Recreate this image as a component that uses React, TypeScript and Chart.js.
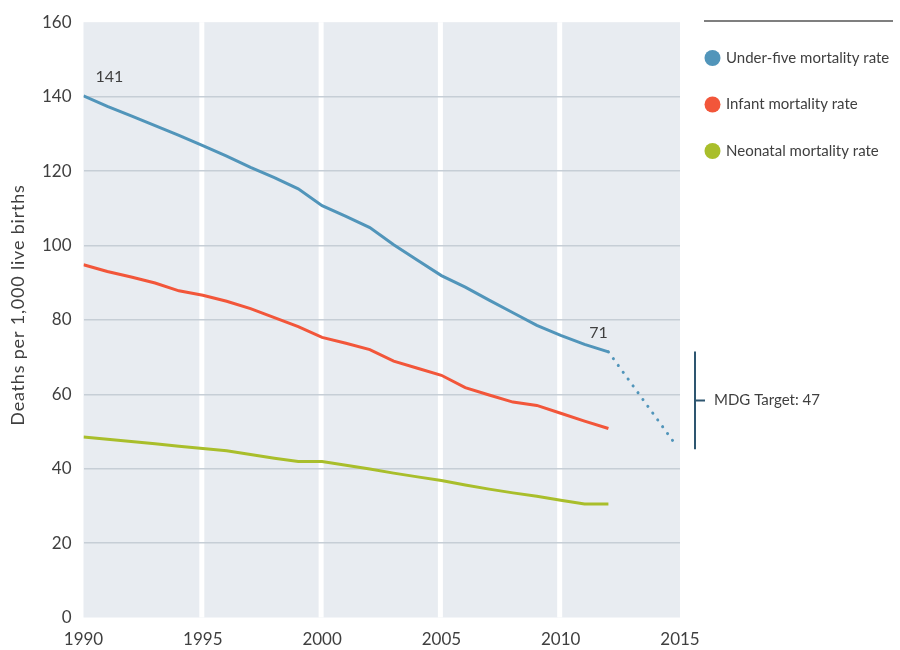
import React, { useEffect, useRef } from "react";
import { Chart, registerables } from "chart.js";

Chart.register(...registerables);

const years = [1990, 1991, 1992, 1993, 1994, 1995, 1996, 1997, 1998, 1999, 2000, 2001, 2002, 2003, 2004, 2005, 2006, 2007, 2008, 2009, 2010, 2011, 2012];
const underFive = [140.2, 137.4, 134.8, 132.2, 129.6, 126.8, 124.0, 121.0, 118.2, 115.2, 110.7, 107.8, 104.8, 100.2, 96.0, 91.9, 88.8, 85.3, 81.9, 78.5, 75.8, 73.4, 71.4];
const infant = [94.8, 93.0, 91.5, 89.9, 87.8, 86.6, 85.0, 83.0, 80.6, 78.2, 75.3, 73.7, 72.0, 68.9, 67.0, 65.1, 61.8, 59.8, 57.9, 57.0, 54.9, 52.8, 50.8];
const neonatal = [48.5, 47.9, 47.3, 46.7, 46.0, 45.4, 44.8, 43.8, 42.8, 41.9, 41.9, 40.9, 39.9, 38.8, 37.8, 36.8, 35.6, 34.5, 33.5, 32.6, 31.5, 30.5, 30.5];
const projectionYears = [2012, 2014.8];
const projectionValues = [71.4, 46.6];
const xTicks = [1990, 1995, 2000, 2005, 2010, 2015];
const bandYears = [1995, 2000, 2005, 2010];
const yTicks = [0, 20, 40, 60, 80, 100, 120, 140, 160];
const seriesNames = ["Under-five mortality rate", "Infant mortality rate", "Neonatal mortality rate"];
const seriesColors = ["#5195BA", "#F2563A", "#A9BE2B"];
const yTitle = "Deaths per 1,000 live births";
const startLabel = "141";
const endLabel = "71";
const targetLabel = "MDG Target: 47";
const targetRange = [71.5, 45.2];

const FONT = "Lato, 'Open Sans', sans-serif";
const TEXT = "#3f3f3f";

const decorPlugin = {
  id: "decor",
  beforeDraw(chart: any) {
    const { ctx, chartArea, scales } = chart;
    const x = scales.x;
    ctx.save();
    ctx.fillStyle = "#E8ECF1";
    ctx.fillRect(chartArea.left, chartArea.top, chartArea.right - chartArea.left, chartArea.bottom - chartArea.top);
    ctx.fillStyle = "#FFFFFF";
    bandYears.forEach((yr) => {
      const px = x.getPixelForValue(yr) - 1;
      ctx.fillRect(px - 2.5, chartArea.top, 5, chartArea.bottom - chartArea.top);
    });
    ctx.restore();
  },
  afterDraw(chart: any) {
    const { ctx, chartArea, scales } = chart;
    const x = scales.x;
    const y = scales.y;
    ctx.save();
    ctx.font = `16px ${FONT}`;
    ctx.fillStyle = TEXT;
    ctx.textBaseline = "middle";
    ctx.textAlign = "left";
    ctx.fillText(startLabel, x.getPixelForValue(years[0]) + 12, y.getPixelForValue(underFive[0]) - 19);
    ctx.textAlign = "center";
    ctx.fillText(endLabel, x.getPixelForValue(years[years.length - 1]) - 10, y.getPixelForValue(underFive[underFive.length - 1]) - 19);

    // MDG bracket
    const bx = chartArea.right + 15;
    const y1 = y.getPixelForValue(targetRange[0]);
    const y2 = y.getPixelForValue(targetRange[1]);
    const ym = (y1 + y2) / 2;
    ctx.strokeStyle = "#2E5670";
    ctx.lineWidth = 2;
    ctx.beginPath();
    ctx.moveTo(bx, y1);
    ctx.lineTo(bx, y2);
    ctx.moveTo(bx, ym);
    ctx.lineTo(bx + 10, ym);
    ctx.stroke();
    ctx.font = `15px ${FONT}`;
    ctx.textAlign = "left";
    ctx.fillStyle = TEXT;
    ctx.fillText(targetLabel, bx + 19, ym);

    // Legend
    ctx.strokeStyle = "#555555";
    ctx.lineWidth = 1.5;
    ctx.beginPath();
    ctx.moveTo(704, 21);
    ctx.lineTo(893, 21);
    ctx.stroke();
    const rows = [58, 104.5, 151];
    ctx.font = `15px ${FONT}`;
    seriesNames.forEach((name, i) => {
      ctx.fillStyle = seriesColors[i];
      ctx.beginPath();
      ctx.arc(712.5, rows[i], 8, 0, Math.PI * 2);
      ctx.fill();
      ctx.fillStyle = TEXT;
      ctx.fillText(name, 726, rows[i]);
    });

    // Y title
    ctx.translate(18, 305);
    ctx.rotate(-Math.PI / 2);
    ctx.textAlign = "center";
    ctx.font = `18px ${FONT}`;
    try {
      (ctx as any).letterSpacing = "0.8px";
    } catch (e) {}
    ctx.fillText(yTitle, 0, 0);
    ctx.restore();
  },
};

export default function App() {
  const ref = useRef<HTMLCanvasElement | null>(null);
  useEffect(() => {
    if (!ref.current) return;
    const mk = (vals: number[], xs: number[]) => vals.map((v, i) => ({ x: xs[i], y: v }));
    const chart = new Chart(ref.current, {
      type: "line",
      data: {
        datasets: [
          {
            label: seriesNames[0],
            data: mk(underFive, years),
            borderColor: seriesColors[0],
            borderWidth: 3,
            pointRadius: 0,
            tension: 0,
          },
          {
            label: seriesNames[1],
            data: mk(infant, years),
            borderColor: seriesColors[1],
            borderWidth: 3,
            pointRadius: 0,
            tension: 0,
          },
          {
            label: seriesNames[2],
            data: mk(neonatal, years),
            borderColor: seriesColors[2],
            borderWidth: 3,
            pointRadius: 0,
            tension: 0,
          },
          {
            label: "Projection",
            data: mk(projectionValues, projectionYears),
            borderColor: seriesColors[0],
            borderWidth: 3,
            borderDash: [0.1, 8.3],
            borderCapStyle: "round",
            pointRadius: 0,
            tension: 0,
          },
        ],
      },
      options: {
        responsive: false,
        animation: false,
        layout: { padding: { left: 0, right: 220, top: 22, bottom: 0 } },
        plugins: { legend: { display: false }, tooltip: { enabled: false } },
        scales: {
          x: {
            type: "linear",
            min: 1990,
            max: 2015,
            afterFit: (s: any) => {
              s.height = 32.5;
            },
            afterBuildTicks: (s: any) => {
              s.ticks = xTicks.map((v) => ({ value: v }));
            },
            grid: { display: false, drawTicks: false },
            border: { display: false },
            ticks: {
              padding: 12,
              color: TEXT,
              font: { family: FONT, size: 17 },
              maxRotation: 0,
              callback: (v: any) => String(v),
            },
          },
          y: {
            type: "linear",
            min: 0,
            max: 160,
            afterFit: (s: any) => {
              s.width = 83.5;
            },
            afterBuildTicks: (s: any) => {
              s.ticks = yTicks.map((v) => ({ value: v }));
            },
            grid: {
              drawTicks: false,
              lineWidth: 1.5,
              color: (c: any) => (c.tick && (c.tick.value === 0 || c.tick.value === 160) ? "rgba(0,0,0,0)" : "#C6CED6"),
            },
            border: { display: false },
            ticks: {
              padding: 12,
              color: TEXT,
              font: { family: FONT, size: 17 },
              callback: (v: any) => String(v),
            },
          },
        },
      },
      plugins: [decorPlugin],
    } as any);
    return () => chart.destroy();
  }, []);
  return (
    <div style={{ position: "fixed", left: 0, top: 0, width: 900, height: 650, background: "#fff" }}>
      <canvas ref={ref} width={900} height={650} style={{ width: 900, height: 650, display: "block" }} />
    </div>
  );
}
